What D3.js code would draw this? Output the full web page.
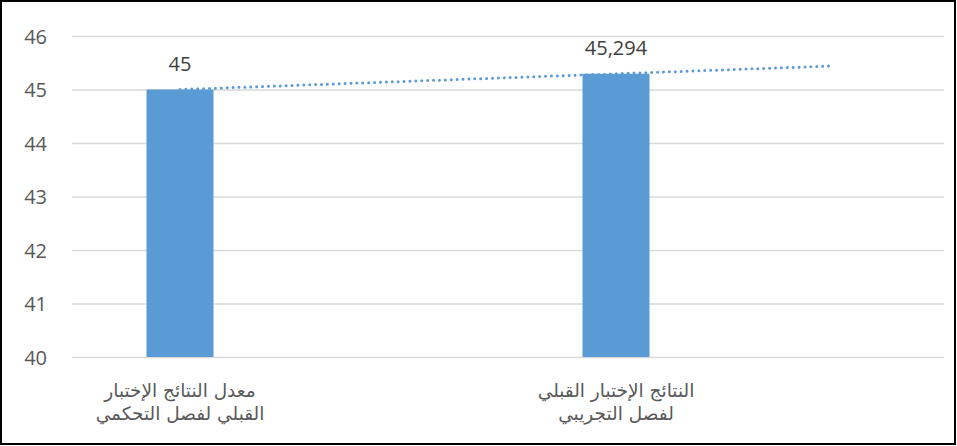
<!DOCTYPE html>
<html><head><meta charset="utf-8">
<script src="https://cdn.jsdelivr.net/npm/d3@7"></script>
<style>
html,body{margin:0;padding:0;background:#fff;}
svg{display:block;}
</style></head>
<body>
<svg id="chart" width="957" height="446"></svg>
<script>
const categories = [
  ["معدل النتائج الإختبار", "القبلي لفصل التحكمي"],
  ["النتائج الإختبار القبلي", "لفصل التجريبي"]
];
const values = [45, 45.294];
const valueLabels = ["45", "45,294"];
const yTicks = [40, 41, 42, 43, 44, 45, 46];
const trendForward = 0.5;

const svg = d3.select("#chart");
const W = 957, H = 446;
const plotLeft = 72, plotRight = 944, plotTop = 36, plotBottom = 357;

svg.append("rect").attr("x",1).attr("y",1).attr("width",W-3).attr("height",H-3)
  .attr("fill","#fff").attr("stroke","#000").attr("stroke-width",2);

const y = d3.scaleLinear().domain([40,46]).range([plotBottom, plotTop]);
const x = d3.scaleLinear().domain([0,1]).range([180, 616]);
const barW = 67;

const yAxis = d3.axisLeft(y).tickValues(yTicks).tickSize(-(plotRight-plotLeft)).tickPadding(25).tickFormat(d3.format("d"));
const gy = svg.append("g").attr("transform",`translate(${plotLeft},0)`).call(yAxis);
gy.select(".domain").remove();
gy.selectAll(".tick line").attr("stroke","#d9d9d9").attr("stroke-width",1.3);
gy.selectAll(".tick text").attr("fill","#595959").style("font-family","'Open Sans', 'Liberation Sans', sans-serif").style("font-size","20px").attr("dy","0.35em");

// bars
svg.append("g").selectAll("rect").data(values).join("rect")
  .attr("x",(d,i)=>x(i)-barW/2).attr("width",barW)
  .attr("y",d=>y(d)).attr("height",d=>y(40)-y(d))
  .attr("fill","#5b9bd5");

// trendline (linear regression, forecast forward)
const n = values.length;
const xs = values.map((d,i)=>i);
const mx = d3.mean(xs), my = d3.mean(values);
const slope = d3.sum(xs.map((xi,i)=>(xi-mx)*(values[i]-my))) / d3.sum(xs.map(xi=>(xi-mx)*(xi-mx)));
const icpt = my - slope*mx;
const tEnd = n-1+trendForward;
svg.append("line")
  .attr("x1",x(0)).attr("y1",y(icpt))
  .attr("x2",x(tEnd)).attr("y2",y(icpt+slope*tEnd))
  .attr("stroke","#5b9bd5").attr("stroke-width",3)
  .attr("stroke-dasharray","0 5.9").attr("stroke-linecap","round");

// value labels
svg.append("g").selectAll("text").data(values).join("text")
  .attr("x",(d,i)=>x(i)).attr("y",d=>y(d)-19)
  .attr("text-anchor","middle").attr("fill","#404040")
  .style("font-family","'Open Sans', 'Liberation Sans', sans-serif").style("font-size","20px")
  .text((d,i)=>valueLabels[i]);

// category labels
const cg = svg.append("g").selectAll("text").data(categories).join("text")
  .attr("x",(d,i)=>x(i)).attr("y",397)
  .attr("text-anchor","middle").attr("fill","#595959")
  .attr("direction","rtl")
  .style("font-family","'DejaVu Sans', sans-serif").style("font-size","18.5px");
cg.selectAll("tspan").data(d=>d).join("tspan")
  .attr("x",function(){return d3.select(this.parentNode).attr("x");})
  .attr("dy",(d,j)=>j===0?0:"23px")
  .text(d=>d);
</script>
</body></html>
